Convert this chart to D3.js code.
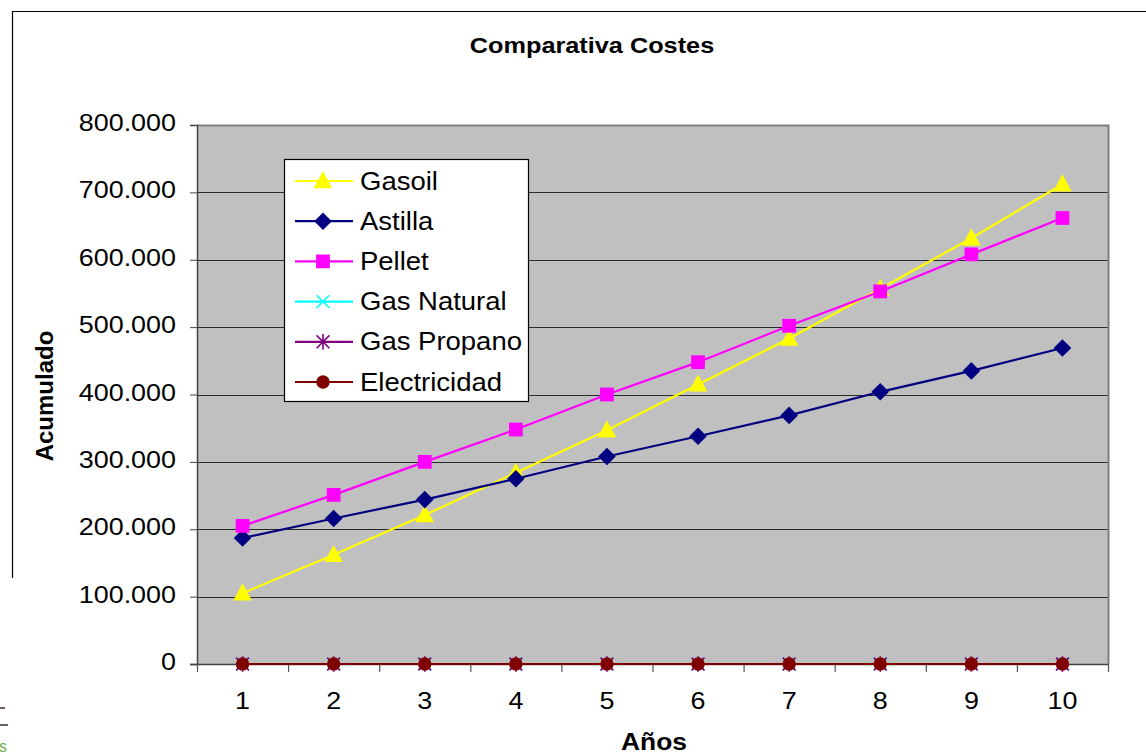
<!DOCTYPE html>
<html>
<head>
<meta charset="utf-8">
<script src="https://cdn.jsdelivr.net/npm/d3@7"></script>
<style>
  html, body { margin: 0; padding: 0; background: #fff; }
  svg { display: block; font-family: "Liberation Sans", Arial, sans-serif; }
</style>
</head>
<body>
<svg id="chart" width="1146" height="755"></svg>
<script>
// Accumulated cost per heating source over ten years
const years = [1, 2, 3, 4, 5, 6, 7, 8, 9, 10];
const gasoil      = [105000, 162000, 221000, 284000, 347000, 415000, 483000, 557000, 632000, 712000];
const astilla     = [187000, 216000, 244000, 275000, 308000, 338000, 369000, 404000, 435000, 469000];
const pellet      = [205000, 251000, 300000, 348000, 400000, 448000, 502000, 553000, 608000, 662000];
const gasNatural  = [0, 0, 0, 0, 0, 0, 0, 0, 0, 0];
const gasPropano  = [0, 0, 0, 0, 0, 0, 0, 0, 0, 0];
const electricidad = [0, 0, 0, 0, 0, 0, 0, 0, 0, 0];
const yTicks = [0, 100000, 200000, 300000, 400000, 500000, 600000, 700000, 800000];

const series = [
  { name: "Gasoil",       values: gasoil,       color: "#FFFF00", marker: "triangle" },
  { name: "Astilla",      values: astilla,      color: "#000080", marker: "diamond" },
  { name: "Pellet",       values: pellet,       color: "#FF00FF", marker: "square" },
  { name: "Gas Natural",  values: gasNatural,   color: "#00FFFF", marker: "x" },
  { name: "Gas Propano",  values: gasPropano,   color: "#800080", marker: "star" },
  { name: "Electricidad", values: electricidad, color: "#800000", marker: "circle" }
];

const svg = d3.select("#chart");
const plot = { left: 197, right: 1108, top: 125, bottom: 664 };

const x = d3.scaleBand().domain(years).range([plot.left, plot.right]);
const y = d3.scaleLinear().domain([0, 800000]).range([plot.bottom, plot.top]);
const fmt = v => v === 0 ? "0" : d3.format(",")(v).replace(/,/g, ".");

// text helper: slightly widened glyphs
function label(parent, px, py, str, opts) {
  const t = parent.append("text")
    .attr("transform", `translate(${px},${py}) scale(${opts.sx || 1},1)`)
    .attr("font-size", opts.size)
    .attr("text-anchor", opts.anchor || "start")
    .attr("fill", opts.fill || "#000")
    .text(str);
  if (opts.bold) t.attr("font-weight", "bold");
  return t;
}

// outer chart frame (partially visible)
svg.append("line").attr("x1", 12).attr("x2", 1146).attr("y1", 11.5).attr("y2", 11.5)
  .attr("stroke", "#000").attr("stroke-width", 1.2);
svg.append("line").attr("x1", 12.5).attr("x2", 12.5).attr("y1", 11).attr("y2", 578)
  .attr("stroke", "#000").attr("stroke-width", 1.2);

// logo fragment at bottom-left
svg.append("line").attr("x1", 0).attr("x2", 5).attr("y1", 708).attr("y2", 708).attr("stroke", "#3a2a2a").attr("stroke-width", 1.5);
svg.append("line").attr("x1", 0).attr("x2", 8).attr("y1", 725).attr("y2", 725).attr("stroke", "#3a2a2a").attr("stroke-width", 1.5);
svg.append("text").attr("x", -1).attr("y", 752).attr("font-size", 16).attr("fill", "#6ab04c").text("s");

// plot background
svg.append("rect")
  .attr("x", plot.left).attr("y", plot.top)
  .attr("width", plot.right - plot.left).attr("height", plot.bottom - plot.top)
  .attr("fill", "#C0C0C0");

// horizontal gridlines
svg.append("g").selectAll("line").data(yTicks.filter(d => d > 0 && d < 800000)).join("line")
  .attr("x1", plot.left).attr("x2", plot.right)
  .attr("y1", d => Math.round(y(d)) + 0.5).attr("y2", d => Math.round(y(d)) + 0.5)
  .attr("stroke", "#2a2a2a").attr("stroke-width", 1);

// plot border: gray top and right
svg.append("path")
  .attr("d", `M${plot.left},${plot.top + 0.5}H${plot.right + 0.5}V${plot.bottom}`)
  .attr("fill", "none").attr("stroke", "#808080").attr("stroke-width", 2);

// y axis
const yAxis = svg.append("g").attr("transform", `translate(${plot.left},0)`)
  .call(d3.axisLeft(y).tickValues(yTicks).tickFormat(() => "").tickSize(7));
yAxis.select(".domain").attr("stroke", "#444").attr("stroke-width", 1.5);
yAxis.selectAll(".tick line").attr("stroke", "#444");
yTicks.forEach(v => label(svg, 176, y(v) + 6, fmt(v), { size: 23, sx: 1.17, anchor: "end" }));

// x axis with ticks at category boundaries
const xAxisG = svg.append("g").attr("transform", `translate(0,${plot.bottom})`);
xAxisG.append("line").attr("x1", plot.left - 7).attr("x2", plot.right)
  .attr("y1", 0.5).attr("y2", 0.5).attr("stroke", "#444").attr("stroke-width", 1.5);
const bounds = years.map(d => x(d)).concat([plot.right]);
xAxisG.selectAll(".bt").data(bounds).join("line")
  .attr("x1", d => d + 0.5).attr("x2", d => d + 0.5).attr("y1", 0).attr("y2", 8)
  .attr("stroke", "#555").attr("stroke-width", 1.2);
years.forEach(d => label(xAxisG, x(d) + x.bandwidth() / 2, 45, String(d), { size: 23, sx: 1.17, anchor: "middle" }));

// marker shapes
function drawMarker(g, type, color, s) {
  if (type === "triangle") {
    g.append("path").attr("d", `M0,${-s * 0.62}L${s * 0.58},${s * 0.45}L${-s * 0.58},${s * 0.45}Z`).attr("fill", color);
  } else if (type === "diamond") {
    g.append("path").attr("d", `M0,${-s * 0.55}L${s * 0.55},0L0,${s * 0.55}L${-s * 0.55},0Z`).attr("fill", color);
  } else if (type === "square") {
    g.append("rect").attr("x", -s * 0.43).attr("y", -s * 0.43).attr("width", s * 0.86).attr("height", s * 0.86).attr("fill", color);
  } else if (type === "x") {
    const r = s * 0.4;
    g.append("path").attr("d", `M${-r},${-r}L${r},${r}M${r},${-r}L${-r},${r}`).attr("stroke", color).attr("stroke-width", 1.6);
  } else if (type === "star") {
    const r = s * 0.4;
    g.append("path").attr("d", `M${-r},${-r}L${r},${r}M${r},${-r}L${-r},${r}M0,${-r * 1.2}V${r * 1.2}`).attr("stroke", color).attr("stroke-width", 1.6);
  } else if (type === "circle") {
    g.append("circle").attr("r", s * 0.42).attr("fill", color);
  }
}

const line = d3.line().x((d, i) => x(years[i]) + x.bandwidth() / 2).y(d => y(d));

// series lines and markers; later series sit on top
series.forEach(s => {
  svg.append("path").datum(s.values).attr("d", line)
    .attr("fill", "none").attr("stroke", s.color).attr("stroke-width", 2.2);
  s.values.forEach((v, i) => {
    const g = svg.append("g").attr("transform", `translate(${x(years[i]) + x.bandwidth() / 2},${y(v)})`);
    drawMarker(g, s.marker, s.color, 16);
  });
});

// title and axis titles
label(svg, 592, 53, "Comparativa Costes", { size: 22, sx: 1.15, anchor: "middle", bold: true });
svg.append("text").attr("transform", "translate(53,396) rotate(-90)").attr("text-anchor", "middle")
  .attr("font-size", 24).attr("font-weight", "bold").text("Acumulado");
label(svg, 654, 750, "Años", { size: 24, sx: 1.1, anchor: "middle", bold: true });

// legend
const legend = svg.append("g");
legend.append("rect").attr("x", 284.5).attr("y", 159.5).attr("width", 244).attr("height", 242)
  .attr("fill", "#fff").attr("stroke", "#000").attr("stroke-width", 1.2);
series.forEach((s, i) => {
  const cy = 181 + i * 40.2;
  legend.append("line").attr("x1", 295).attr("x2", 353).attr("y1", cy).attr("y2", cy)
    .attr("stroke", s.color).attr("stroke-width", 2.2);
  drawMarker(legend.append("g").attr("transform", `translate(323,${cy})`), s.marker, s.color, 16);
  label(legend, 360, cy + 8.5, s.name, { size: 25, sx: 1.1 });
});
</script>
</body>
</html>
